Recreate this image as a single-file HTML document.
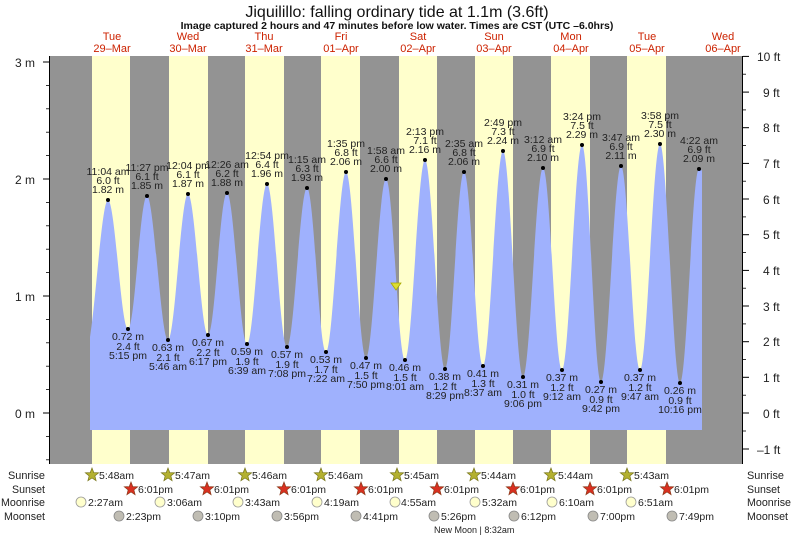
<!DOCTYPE html>
<html><head><meta charset="utf-8"><style>
html,body{margin:0;padding:0;background:#fff;}
svg{display:block;font-family:"Liberation Sans",sans-serif;}
.l text{font-size:10.5px;fill:#222;text-anchor:middle;}
.ax{font-size:12px;fill:#222;}
.bt{font-size:11px;fill:#222;}
</style></head><body>
<svg width="793" height="537" viewBox="0 0 793 537">
<defs>
<polygon id="st" points="0,-7 1.8,-2.4 6.7,-2.2 2.9,0.9 4.1,5.7 0,3 -4.1,5.7 -2.9,0.9 -6.7,-2.2 -1.8,-2.4"/>
</defs>
<rect x="0" y="0" width="793" height="537" fill="#fff"/>
<text x="397" y="17" text-anchor="middle" font-size="16" fill="#111">Jiquilillo: falling  ordinary tide at 1.1m (3.6ft)</text>
<text x="397" y="29" text-anchor="middle" font-size="10.5" font-weight="bold" fill="#111">Image captured 2 hours and 47 minutes before low water. Times are CST (UTC –6.0hrs)</text>
<g font-size="11" fill="#cc2200" text-anchor="middle">
<text x="112" y="40">Tue</text><text x="112" y="52">29–Mar</text>
<text x="188" y="40">Wed</text><text x="188" y="52">30–Mar</text>
<text x="264" y="40">Thu</text><text x="264" y="52">31–Mar</text>
<text x="341" y="40">Fri</text><text x="341" y="52">01–Apr</text>
<text x="418" y="40">Sat</text><text x="418" y="52">02–Apr</text>
<text x="494" y="40">Sun</text><text x="494" y="52">03–Apr</text>
<text x="571" y="40">Mon</text><text x="571" y="52">04–Apr</text>
<text x="647" y="40">Tue</text><text x="647" y="52">05–Apr</text>
<text x="723" y="40">Wed</text><text x="723" y="52">06–Apr</text>
</g>
<rect x="49" y="56" width="694" height="408" fill="#939393"/>
<g fill="#ffffcc">
<rect x="92" y="56" width="38" height="408"/>
<rect x="169" y="56" width="39" height="408"/>
<rect x="245" y="56" width="39" height="408"/>
<rect x="321" y="56" width="39" height="408"/>
<rect x="399" y="56" width="38" height="408"/>
<rect x="475" y="56" width="38" height="408"/>
<rect x="551" y="56" width="39" height="408"/>
<rect x="627" y="56" width="39" height="408"/>
</g>
<path fill="#9fb1fd" d="M90,430 L90,337 C96,300 102,200 108,200
C115,200 121,329 128,329 C135,329 140,196 147,196 C154,196 161,340 168,340 C175,340 181,194 188,194
C195,194 201,335 208,335 C215,335 220,193 227,193 C234,193 240,344 247,344 C254,344 260,184 267,184
C274,184 280,347 287,347 C294,347 300,188 307,188 C314,188 319,352 326,352 C333,352 339,172 346,172
C353,172 359,358 366,358 C373,358 379,179 386,179 C393,179 398,360 405,360 C412,360 418,160 425,160
C432,160 438,369 445,369 C452,369 457,172 464,172 C471,172 476,366 483,366 C490,366 496,151 503,151
C510,151 516,377 523,377 C530,377 536,168 543,168 C550,168 555,370 562,370 C569,370 575,145 582,145
C589,145 594,382 601,382 C608,382 614,166 621,166 C628,166 633,370 640,370 C647,370 653,144 660,144
C667,144 673,383 680,383 C687,383 692,169 699,169 C701,169 702,170 702,172 L702,430 Z"/>
<polygon points="391,283 401,283 396,290" fill="#dddd33" stroke="#aaaa00" stroke-width="0.8"/>
<g fill="#000">
<circle cx="108" cy="200" r="2"/><circle cx="147" cy="196" r="2"/><circle cx="188" cy="194" r="2"/><circle cx="227" cy="193" r="2"/>
<circle cx="267" cy="184" r="2"/><circle cx="307" cy="188" r="2"/><circle cx="346" cy="172" r="2"/><circle cx="386" cy="179" r="2"/>
<circle cx="425" cy="160" r="2"/><circle cx="464" cy="172" r="2"/><circle cx="503" cy="151" r="2"/><circle cx="543" cy="168" r="2"/>
<circle cx="582" cy="145" r="2"/><circle cx="621" cy="166" r="2"/><circle cx="660" cy="144" r="2"/><circle cx="699" cy="169" r="2"/>
<circle cx="128" cy="329" r="2"/><circle cx="168" cy="340" r="2"/><circle cx="208" cy="335" r="2"/><circle cx="247" cy="344" r="2"/>
<circle cx="287" cy="347" r="2"/><circle cx="326" cy="352" r="2"/><circle cx="366" cy="358" r="2"/><circle cx="405" cy="360" r="2"/>
<circle cx="445" cy="369" r="2"/><circle cx="483" cy="366" r="2"/><circle cx="523" cy="377" r="2"/><circle cx="562" cy="370" r="2"/>
<circle cx="601" cy="382" r="2"/><circle cx="640" cy="370" r="2"/><circle cx="680" cy="383" r="2"/>
</g>
<g class="l">
<text x="108" y="175">11:04 am</text><text x="108" y="184">6.0 ft</text><text x="108" y="193">1.82 m</text>
<text x="147" y="171">11:27 pm</text><text x="147" y="180">6.1 ft</text><text x="147" y="189">1.85 m</text>
<text x="188" y="169">12:04 pm</text><text x="188" y="178">6.1 ft</text><text x="188" y="187">1.87 m</text>
<text x="227" y="168">12:26 am</text><text x="227" y="177">6.2 ft</text><text x="227" y="186">1.88 m</text>
<text x="267" y="159">12:54 pm</text><text x="267" y="168">6.4 ft</text><text x="267" y="177">1.96 m</text>
<text x="307" y="163">1:15 am</text><text x="307" y="172">6.3 ft</text><text x="307" y="181">1.93 m</text>
<text x="346" y="147">1:35 pm</text><text x="346" y="156">6.8 ft</text><text x="346" y="165">2.06 m</text>
<text x="386" y="154">1:58 am</text><text x="386" y="163">6.6 ft</text><text x="386" y="172">2.00 m</text>
<text x="425" y="135">2:13 pm</text><text x="425" y="144">7.1 ft</text><text x="425" y="153">2.16 m</text>
<text x="464" y="147">2:35 am</text><text x="464" y="156">6.8 ft</text><text x="464" y="165">2.06 m</text>
<text x="503" y="126">2:49 pm</text><text x="503" y="135">7.3 ft</text><text x="503" y="144">2.24 m</text>
<text x="543" y="143">3:12 am</text><text x="543" y="152">6.9 ft</text><text x="543" y="161">2.10 m</text>
<text x="582" y="120">3:24 pm</text><text x="582" y="129">7.5 ft</text><text x="582" y="138">2.29 m</text>
<text x="621" y="141">3:47 am</text><text x="621" y="150">6.9 ft</text><text x="621" y="159">2.11 m</text>
<text x="660" y="119">3:58 pm</text><text x="660" y="128">7.5 ft</text><text x="660" y="137">2.30 m</text>
<text x="699" y="144">4:22 am</text><text x="699" y="153">6.9 ft</text><text x="699" y="162">2.09 m</text>
<text x="128" y="340">0.72 m</text><text x="128" y="350">2.4 ft</text><text x="128" y="359">5:15 pm</text>
<text x="168" y="351">0.63 m</text><text x="168" y="361">2.1 ft</text><text x="168" y="370">5:46 am</text>
<text x="208" y="346">0.67 m</text><text x="208" y="356">2.2 ft</text><text x="208" y="365">6:17 pm</text>
<text x="247" y="355">0.59 m</text><text x="247" y="365">1.9 ft</text><text x="247" y="374">6:39 am</text>
<text x="287" y="358">0.57 m</text><text x="287" y="368">1.9 ft</text><text x="287" y="377">7:08 pm</text>
<text x="326" y="363">0.53 m</text><text x="326" y="373">1.7 ft</text><text x="326" y="382">7:22 am</text>
<text x="366" y="369">0.47 m</text><text x="366" y="379">1.5 ft</text><text x="366" y="388">7:50 pm</text>
<text x="405" y="371">0.46 m</text><text x="405" y="381">1.5 ft</text><text x="405" y="390">8:01 am</text>
<text x="445" y="380">0.38 m</text><text x="445" y="390">1.2 ft</text><text x="445" y="399">8:29 pm</text>
<text x="483" y="377">0.41 m</text><text x="483" y="387">1.3 ft</text><text x="483" y="396">8:37 am</text>
<text x="523" y="388">0.31 m</text><text x="523" y="398">1.0 ft</text><text x="523" y="407">9:06 pm</text>
<text x="562" y="381">0.37 m</text><text x="562" y="391">1.2 ft</text><text x="562" y="400">9:12 am</text>
<text x="601" y="393">0.27 m</text><text x="601" y="403">0.9 ft</text><text x="601" y="412">9:42 pm</text>
<text x="640" y="381">0.37 m</text><text x="640" y="391">1.2 ft</text><text x="640" y="400">9:47 am</text>
<text x="680" y="394">0.26 m</text><text x="680" y="404">0.9 ft</text><text x="680" y="413">10:16 pm</text>
</g>
<g stroke="#000" stroke-width="1">
<line x1="49.5" y1="56" x2="49.5" y2="464"/>
<line x1="742.5" y1="56" x2="742.5" y2="464"/>
<line x1="43" y1="62" x2="49" y2="62"/><line x1="43" y1="179" x2="49" y2="179"/><line x1="43" y1="296" x2="49" y2="296"/><line x1="43" y1="413" x2="49" y2="413"/>
<g stroke-width="0.8">
<line x1="46" y1="85.4" x2="49" y2="85.4"/><line x1="46" y1="108.8" x2="49" y2="108.8"/><line x1="46" y1="132.2" x2="49" y2="132.2"/><line x1="46" y1="155.6" x2="49" y2="155.6"/>
<line x1="46" y1="202.4" x2="49" y2="202.4"/><line x1="46" y1="225.8" x2="49" y2="225.8"/><line x1="46" y1="249.2" x2="49" y2="249.2"/><line x1="46" y1="272.6" x2="49" y2="272.6"/>
<line x1="46" y1="319.4" x2="49" y2="319.4"/><line x1="46" y1="342.8" x2="49" y2="342.8"/><line x1="46" y1="366.2" x2="49" y2="366.2"/><line x1="46" y1="389.6" x2="49" y2="389.6"/>
<line x1="46" y1="436.4" x2="49" y2="436.4"/><line x1="46" y1="459.8" x2="49" y2="459.8"/>
</g>
<line x1="743" y1="449" x2="749" y2="449"/><line x1="743" y1="413" x2="749" y2="413"/><line x1="743" y1="377.3" x2="749" y2="377.3"/><line x1="743" y1="341.7" x2="749" y2="341.7"/>
<line x1="743" y1="306" x2="749" y2="306"/><line x1="743" y1="270.4" x2="749" y2="270.4"/><line x1="743" y1="234.7" x2="749" y2="234.7"/><line x1="743" y1="199" x2="749" y2="199"/>
<line x1="743" y1="163.4" x2="749" y2="163.4"/><line x1="743" y1="127.7" x2="749" y2="127.7"/><line x1="743" y1="92.1" x2="749" y2="92.1"/><line x1="743" y1="56.4" x2="749" y2="56.4"/>
<g stroke-width="0.8">
<line x1="743" y1="431" x2="746" y2="431"/><line x1="743" y1="395.2" x2="746" y2="395.2"/><line x1="743" y1="359.5" x2="746" y2="359.5"/><line x1="743" y1="323.9" x2="746" y2="323.9"/>
<line x1="743" y1="288.2" x2="746" y2="288.2"/><line x1="743" y1="252.6" x2="746" y2="252.6"/><line x1="743" y1="216.9" x2="746" y2="216.9"/><line x1="743" y1="181.2" x2="746" y2="181.2"/>
<line x1="743" y1="145.6" x2="746" y2="145.6"/><line x1="743" y1="109.9" x2="746" y2="109.9"/><line x1="743" y1="74.2" x2="746" y2="74.2"/>
</g>
</g>
<g class="ax" text-anchor="end">
<text x="35" y="67">3 m</text><text x="35" y="184">2 m</text><text x="35" y="301">1 m</text><text x="35" y="418">0 m</text>
</g>
<g class="ax">
<text x="757" y="61">10 ft</text><text x="763" y="97">9 ft</text><text x="763" y="132">8 ft</text><text x="763" y="168">7 ft</text>
<text x="763" y="204">6 ft</text><text x="763" y="239">5 ft</text><text x="763" y="275">4 ft</text><text x="763" y="311">3 ft</text>
<text x="763" y="346">2 ft</text><text x="763" y="382">1 ft</text><text x="763" y="418">0 ft</text><text x="757" y="454">–1 ft</text>
</g>
<g class="bt" text-anchor="end">
<text x="45" y="479" textLength="37" lengthAdjust="spacingAndGlyphs">Sunrise</text><text x="45" y="493" textLength="33" lengthAdjust="spacingAndGlyphs">Sunset</text><text x="45" y="506" textLength="44" lengthAdjust="spacingAndGlyphs">Moonrise</text><text x="45" y="520" textLength="41" lengthAdjust="spacingAndGlyphs">Moonset</text>
</g>
<g class="bt">
<text x="747" y="479" textLength="37" lengthAdjust="spacingAndGlyphs">Sunrise</text><text x="747" y="493" textLength="33" lengthAdjust="spacingAndGlyphs">Sunset</text><text x="747" y="506" textLength="44" lengthAdjust="spacingAndGlyphs">Moonrise</text><text x="747" y="520" textLength="41" lengthAdjust="spacingAndGlyphs">Moonset</text>
</g>
<g fill="#b3b030" stroke="#77751a" stroke-width="0.7">
<use href="#st" x="92" y="475"/><use href="#st" x="168" y="475"/><use href="#st" x="245" y="475"/><use href="#st" x="321" y="475"/>
<use href="#st" x="397" y="475"/><use href="#st" x="474" y="475"/><use href="#st" x="551" y="475"/><use href="#st" x="627" y="475"/>
</g>
<g fill="#d83020" stroke="#8a3a1a" stroke-width="0.7">
<use href="#st" x="131" y="489"/><use href="#st" x="207" y="489"/><use href="#st" x="284" y="489"/><use href="#st" x="361" y="489"/>
<use href="#st" x="437" y="489"/><use href="#st" x="513" y="489"/><use href="#st" x="590" y="489"/><use href="#st" x="667" y="489"/>
</g>
<g fill="#ffffcc" stroke="#999" stroke-width="0.8">
<circle cx="81" cy="502" r="5"/><circle cx="160" cy="502" r="5"/><circle cx="238" cy="502" r="5"/><circle cx="317" cy="502" r="5"/>
<circle cx="395" cy="502" r="5"/><circle cx="475" cy="502" r="5"/><circle cx="552" cy="502" r="5"/><circle cx="631" cy="502" r="5"/>
</g>
<g fill="#c0bdb3" stroke="#888" stroke-width="0.8">
<circle cx="119" cy="516" r="5"/><circle cx="198" cy="516" r="5"/><circle cx="277" cy="516" r="5"/><circle cx="356" cy="516" r="5"/>
<circle cx="434" cy="516" r="5"/><circle cx="514" cy="516" r="5"/><circle cx="593" cy="516" r="5"/><circle cx="672" cy="516" r="5"/>
</g>
<g font-size="10.5" fill="#222">
<text x="99" y="479">5:48am</text><text x="175" y="479">5:47am</text><text x="252" y="479">5:46am</text><text x="328" y="479">5:46am</text>
<text x="404" y="479">5:45am</text><text x="481" y="479">5:44am</text><text x="558" y="479">5:44am</text><text x="634" y="479">5:43am</text>
<text x="138" y="493">6:01pm</text><text x="214" y="493">6:01pm</text><text x="291" y="493">6:01pm</text><text x="368" y="493">6:01pm</text>
<text x="444" y="493">6:01pm</text><text x="520" y="493">6:01pm</text><text x="597" y="493">6:01pm</text><text x="674" y="493">6:01pm</text>
<text x="88" y="506">2:27am</text><text x="167" y="506">3:06am</text><text x="245" y="506">3:43am</text><text x="324" y="506">4:19am</text>
<text x="401" y="506">4:55am</text><text x="482" y="506">5:32am</text><text x="559" y="506">6:10am</text><text x="638" y="506">6:51am</text>
<text x="126" y="520">2:23pm</text><text x="205" y="520">3:10pm</text><text x="284" y="520">3:56pm</text><text x="363" y="520">4:41pm</text>
<text x="441" y="520">5:26pm</text><text x="521" y="520">6:12pm</text><text x="600" y="520">7:00pm</text><text x="679" y="520">7:49pm</text>
</g>
<text x="434" y="533" font-size="9" fill="#222">New Moon | 8:32am</text>
</svg>
</body></html>
